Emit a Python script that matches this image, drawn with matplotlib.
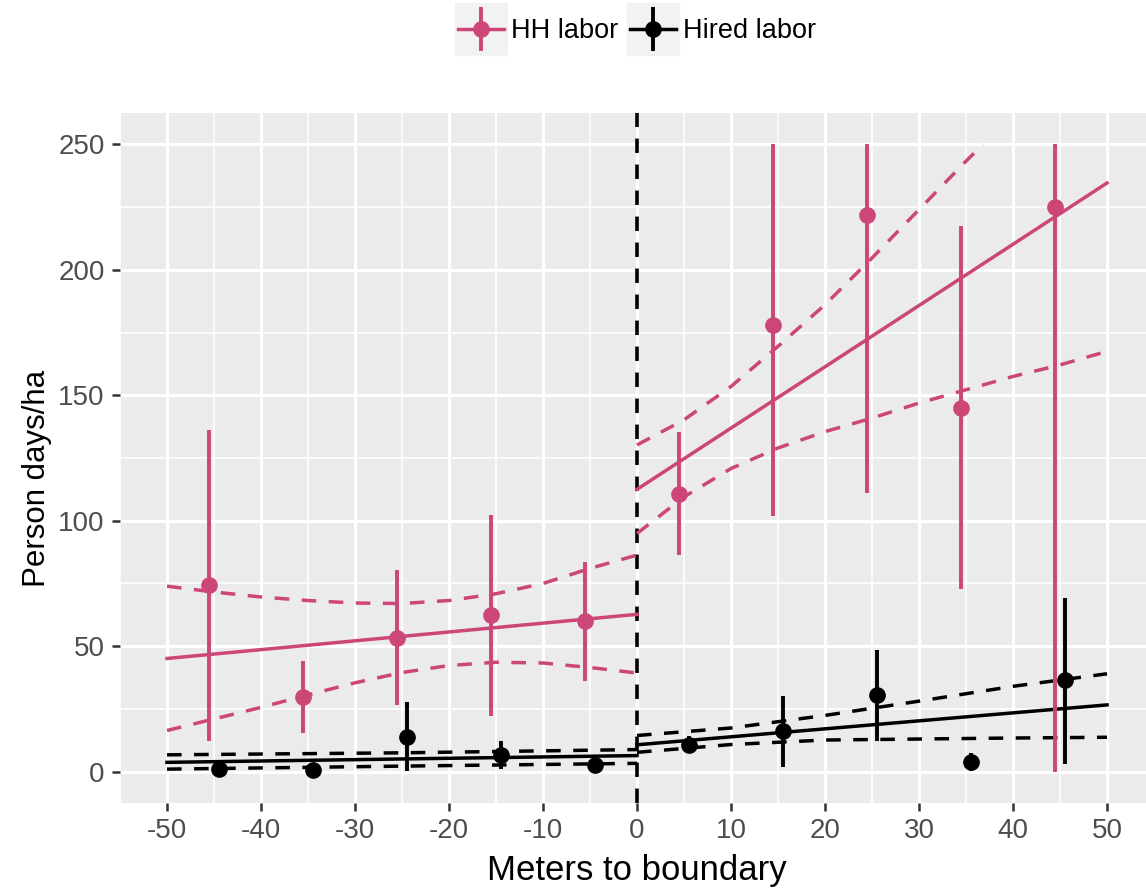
import numpy as np
import matplotlib
matplotlib.use('Agg')
import matplotlib.pyplot as plt
from matplotlib.lines import Line2D
from matplotlib.legend_handler import HandlerTuple
from matplotlib.ticker import MultipleLocator

plt.rcParams['font.family'] = ['Liberation Sans', 'DejaVu Sans']
plt.rcParams['axes.unicode_minus'] = False

# bins (meters to boundary) and binned means with intervals
bins = [-45, -35, -25, -15, -5, 5, 15, 25, 35, 45]

hh_mean = [74.3, 29.7, 53.3, 62.3, 59.9, 110.7, 178.1, 222.0, 145.0, 225.1]
hh_lo = [12.1, 15.4, 26.4, 22.1, 36.1, 86.3, 101.9, 110.9, 72.7, 0.0]
hh_hi = [136.2, 44.0, 80.3, 102.4, 83.7, 135.5, 250.0, 250.0, 217.6, 250.0]

hired_mean = [1.1, 0.7, 14.0, 6.7, 2.8, 10.7, 16.1, 30.6, 3.7, 36.6]
hired_lo = [0.2, 0.1, 0.4, 1.1, 1.6, 7.5, 1.7, 12.4, 0.1, 3.0]
hired_hi = [2.3, 1.5, 27.7, 12.1, 4.0, 14.4, 30.0, 48.6, 7.3, 69.3]

# linear fits on each side of the boundary
fit_x_left = [-50, 0]
fit_x_right = [0, 50]
hh_fit_left = [45.1, 62.7]
hh_fit_right = [112.5, 234.6]
hired_fit_left = [3.7, 6.4]
hired_fit_right = [10.7, 26.6]

# confidence bands
hh_ci_x_left = [-50, -45, -40, -35, -30, -25, -20, -15, -10, -5, 0]
hh_ci_up_left = [73.9, 71.6, 69.6, 68.2, 67.2, 67.0, 68.2, 70.9, 75.0, 81.0, 86.3]
hh_ci_lo_left = [16.4, 21.0, 25.6, 30.6, 35.4, 39.5, 42.3, 43.6, 43.3, 41.5, 39.3]

hh_ci_up_x_right = [0, 5, 10, 15, 20, 25, 30, 35, 36.8]
hh_ci_up_right = [130.2, 140.2, 153.5, 169.5, 186.1, 204.7, 224.0, 243.3, 250.0]
hh_ci_lo_x_right = [0, 5, 10, 15, 20, 25, 30, 35, 40, 45, 50]
hh_ci_lo_right = [94.9, 109.5, 120.8, 129.0, 135.5, 140.9, 146.9, 152.2, 157.5, 162.1, 167.5]

hired_ci_x_left = [-50, -25, 0]
hired_ci_up_left = [6.7, 7.5, 8.8]
hired_ci_lo_left = [1.0, 2.2, 3.3]

hired_ci_x_right = [0, 10, 20, 30, 40, 50]
hired_ci_up_right = [14.4, 17.4, 22.4, 28.1, 34.0, 39.0]
hired_ci_lo_right = [7.7, 10.8, 12.6, 13.0, 13.4, 13.7]

pink = '#CC4678'
black = '#000000'
lw_fit = 2.5
dash = (0, (4.2, 3.6))

fig = plt.figure(figsize=(11.46, 8.92), dpi=100)
ax = fig.add_axes([120 / 1146, 89 / 892, 1034 / 1146, 690 / 892])
ax.set_facecolor('#EBEBEB')
for s in ax.spines.values():
    s.set_visible(False)

ax.set_xlim(-55, 55)
ax.set_ylim(-12.5, 262.5)
ax.xaxis.set_major_locator(MultipleLocator(10))
ax.xaxis.set_minor_locator(MultipleLocator(5))
ax.yaxis.set_major_locator(MultipleLocator(50))
ax.yaxis.set_minor_locator(MultipleLocator(25))
ax.set_axisbelow(True)
ax.grid(which='major', color='white', lw=2.3)
ax.grid(which='minor', color='white', lw=1.2)
ax.tick_params(which='major', length=6, width=1.8, color='#333333',
               labelcolor='#4D4D4D', labelsize=20, pad=5)
ax.tick_params(which='minor', length=0)

ax.axvline(0, color='black', lw=2.6, ls=(0, (4, 3.2)), zorder=2)

# fits + bands
for xs, ys, c in [(fit_x_left, hh_fit_left, pink), (fit_x_right, hh_fit_right, pink),
                  (fit_x_left, hired_fit_left, black), (fit_x_right, hired_fit_right, black)]:
    ax.plot(xs, ys, color=c, lw=lw_fit, zorder=3)

ax.plot(hh_ci_x_left, hh_ci_up_left, color=pink, lw=lw_fit, ls=dash, zorder=3)
ax.plot(hh_ci_x_left, hh_ci_lo_left, color=pink, lw=lw_fit, ls=dash, zorder=3)
ax.plot(hh_ci_up_x_right, hh_ci_up_right, color=pink, lw=lw_fit, ls=dash, zorder=3)
ax.plot(hh_ci_lo_x_right, hh_ci_lo_right, color=pink, lw=lw_fit, ls=dash, zorder=3)
ax.plot(hired_ci_x_left, hired_ci_up_left, color=black, lw=lw_fit, ls=dash, zorder=3)
ax.plot(hired_ci_x_left, hired_ci_lo_left, color=black, lw=lw_fit, ls=dash, zorder=3)
ax.plot(hired_ci_x_right, hired_ci_up_right, color=black, lw=lw_fit, ls=dash, zorder=3)
ax.plot(hired_ci_x_right, hired_ci_lo_right, color=black, lw=lw_fit, ls=dash, zorder=3)

# pointranges, dodged
x_hh = np.array(bins) - 0.5
x_hired = np.array(bins) + 0.5
ax.vlines(x_hh, hh_lo, hh_hi, color=pink, lw=2.8, zorder=4)
ax.plot(x_hh, hh_mean, 'o', color=pink, ms=11, zorder=5)
ax.vlines(x_hired, hired_lo, hired_hi, color=black, lw=2.8, zorder=4)
ax.plot(x_hired, hired_mean, 'o', color=black, ms=11, zorder=5)

ax.set_xlabel('Meters to boundary', fontsize=25, color='black', labelpad=7)
ax.set_ylabel('Person days/ha', fontsize=22.5, color='black')
ax.yaxis.set_label_coords(-0.066, 0.47)

# legend
def key(c):
    bg = Line2D([], [], marker='s', ms=37.5, color='#F2F2F2', ls='')
    hl = Line2D([], [], color=c, lw=2.5)
    vl = Line2D([], [], marker='|', ms=32, mew=2.8, color=c, ls='')
    pt = Line2D([], [], marker='o', ms=11, color=c, ls='')
    return (bg, hl, vl, pt)

fig.legend([key(pink), key(black)], ['HH labor', 'Hired labor'],
           handler_map={tuple: HandlerTuple(ndivide=1)},
           loc='center', bbox_to_anchor=(0.556, 0.965), ncol=2, frameon=False,
           handlelength=1.7, handletextpad=0.25, columnspacing=0.45,
           fontsize=19.5, numpoints=1, borderaxespad=0)

fig.savefig('out.png', dpi=100)
